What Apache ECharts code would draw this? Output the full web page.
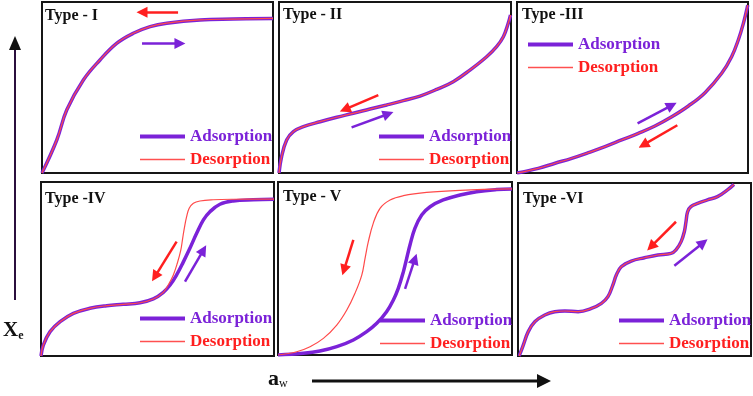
<!DOCTYPE html>
<html lang="en">
<head>
  <meta charset="UTF-8">
  <script src="https://cdn.jsdelivr.net/npm/echarts@6/dist/echarts.min.js"></script>
  <style>html,body{margin:0;padding:0;background:#fff;}</style>
</head>
<body>
  <div id="isothermChart" style="width: 753px;height:396px;"></div>

  <script type="text/javascript">

    // panel titles
    var panelTitles = ['Type - I', 'Type - II', 'Type -III', 'Type -IV', 'Type - V', 'Type -VI'];

    // curves, x = a_w and y = X_e, both on a 0..100 scale
    var typeIAds = [[0,0],[6.4,19.3],[10.7,36.8],[17.9,54.4],[25.1,66.1],[32.3,75.8],[39.5,81.7],[46.8,85.6],[54,87.6],[68.4,89.5],[82.7,90],[100,90.4]];
    var typeIDes = typeIAds;

    var typeIIAds = [[0,0],[1.1,9.5],[3.3,19.3],[6.2,24.2],[10.5,27.1],[17.7,30],[24.9,32.6],[32,34.9],[39.2,37.4],[46.4,39.8],[53.6,42.3],[60.8,45],[68,48.9],[75.1,53.4],[82.3,60.2],[89.5,68],[93.8,73.9],[96.7,79.7],[98.8,87.5],[99.8,92.4]];
    var typeIIDes = typeIIAds;

    var typeIIIAds = [[0,0],[9.2,2.7],[16.5,5.7],[23.7,8.6],[30.9,11.9],[38.1,15.4],[45.3,19.3],[52.5,23.2],[59.7,27.5],[67,32.9],[74.2,39.2],[81.4,47],[88.6,58.3],[92.9,68],[95.8,77.8],[98,87.5],[99.9,98.2]];
    var typeIIIDes = typeIIIAds;

    var typeIVAds = [[0,0],[1,6.3],[3.9,14],[8.2,19.7],[13.9,24.5],[21,27.4],[28.2,28.9],[35.3,29.7],[42.5,30.6],[48.2,32.8],[52.5,36.6],[55.4,40.8],[58.2,46.6],[61,53.8],[63.9,61.9],[66.8,70.5],[69.7,78.2],[72.5,82.9],[76.8,87.2],[82.5,89.1],[91.1,89.8],[100,90.1]];
    var typeIVDes = [[0,0],[1,6.3],[3.9,14],[8.2,19.7],[13.9,24.5],[21,27.4],[28.2,28.9],[35.3,29.7],[42.5,30.6],[48.2,32.8],[52.5,36.6],[54.6,40.8],[56.8,46.6],[58.5,53.3],[60,60.9],[60.8,67.6],[61.5,73.4],[62.5,80.1],[63.6,84.9],[65.4,87.8],[68.2,89.1],[73.9,89.8],[82.5,90.1],[100,90.2]];

    var typeVAds = [[0,0],[10.8,1],[17.9,2.3],[25.1,4.8],[32.2,8.7],[37.9,13.5],[42.2,18.3],[46.4,25],[49.3,31.8],[51.4,38.5],[53.6,48.2],[55,55.9],[56.4,63.6],[58.5,73.2],[61.4,80.9],[65,85.7],[70.6,89.6],[77.8,92.5],[84.9,94.4],[93.5,95.6],[100,96]];
    var typeVDes = [[0,0],[8,1.9],[13.7,4.8],[19.4,9.6],[25.1,17.3],[29.4,26],[32.9,35.7],[35.8,46.2],[37.2,55.9],[38.6,65.5],[40.7,76.1],[43.6,84.8],[47.9,89.6],[53.6,92.1],[63.5,94],[77.8,95.2],[100,96]];

    var typeVIAds = [[0.5,0],[2.3,6.4],[4.4,14.1],[7.3,19.9],[11.5,23.7],[15.8,25.6],[20.1,26],[25.8,25.6],[31.5,27.5],[35.8,30.4],[38.6,34.3],[40.7,41],[42.2,46.8],[44.3,51.6],[48.6,54.9],[54.3,56.8],[60,58.4],[65.7,59.3],[67.8,61.3],[70,66.1],[71.4,71.9],[72.1,77.6],[72.8,83.4],[74.2,86.3],[77.1,88.2],[81.3,90.2],[85.6,92.1],[89.9,96],[92.7,99.2]];
    var typeVIDes = typeVIAds;

    var adsCurves = [typeIAds, typeIIAds, typeIIIAds, typeIVAds, typeVAds, typeVIAds];
    var desCurves = [typeIDes, typeIIDes, typeIIIDes, typeIVDes, typeVDes, typeVIDes];

    // direction arrows (start, tip) in the same 0..100 units
    var adsArrows = [
      [[43.3,75.8],[59.7,75.8]],
      [[31.3,26.7],[47.1,34.5]],
      [[52.2,29],[67,39.6]],
      [[61.8,42.7],[69.7,60.9]],
      [[54.3,38.2],[58.5,55.5]],
      [[67.1,52.2],[79.5,65.5]]
    ];
    var desArrows = [
      [[58.9,94],[43.3,94]],
      [[42.8,45.6],[28.4,37.2]],
      [[69.4,27.9],[54.7,16.4]],
      [[58.2,65.7],[48.9,45.6]],
      [[32.2,66.5],[28.2,49.1]],
      [[67.8,77.6],[57.1,63.2]]
    ];

    var purple = '#7b22d8';
    var red = '#ff1f1f';
    var serif = '"Liberation Serif", "Times New Roman", serif';

    // panel boxes in px: left, top, width, height
    var boxes = [
      [42, 2, 231, 171], [279, 2, 232, 171], [517, 2, 231, 171],
      [41, 182, 233, 174], [278, 182, 234, 173], [518, 183, 233, 173]
    ];
    // legend and title spots in px
    var legendSpots = [[138, 128], [377, 128], [526, 36], [138, 310], [378, 312], [617, 312]];
    var titleSpots = [[45, 8], [283, 7], [522, 7], [45, 191], [283, 189], [523, 191]];

    function createIsothermChart() {
        const chart = echarts.init(document.getElementById('isothermChart'));

        let grids = [], xAxes = [], yAxes = [], series = [], legends = [], titles = [];

        boxes.forEach(function (b, i) {
            grids.push({
                left: b[0], top: b[1], width: b[2], height: b[3],
                show: true, borderColor: '#161616', borderWidth: 2, backgroundColor: '#fff'
            });
            xAxes.push({ gridIndex: i, type: 'value', min: 0, max: 100, show: false });
            yAxes.push({ gridIndex: i, type: 'value', min: 0, max: 100, show: false });

            series.push({
                name: 'Adsorption', type: 'line', xAxisIndex: i, yAxisIndex: i,
                data: adsCurves[i], symbol: 'none', smooth: 0.4, z: 2,
                lineStyle: { color: purple, width: 3.5 }, itemStyle: { color: purple }
            });
            series.push({
                name: 'Desorption', type: 'line', xAxisIndex: i, yAxisIndex: i,
                data: desCurves[i], symbol: 'none', smooth: 0.4, z: 3,
                lineStyle: { color: '#ff4a4a', width: 1.2 }, itemStyle: { color: '#ff4a4a' }
            });
            series.push({
                type: 'lines', coordinateSystem: 'cartesian2d', xAxisIndex: i, yAxisIndex: i,
                symbol: ['none', 'triangle'], symbolSize: [12, 11], z: 4, silent: true,
                data: [
                    { coords: desArrows[i], lineStyle: { color: red, width: 2.5, opacity: 1 } },
                    { coords: adsArrows[i], lineStyle: { color: purple, width: 2.5, opacity: 1 } }
                ]
            });

            legends.push({
                left: legendSpots[i][0], top: legendSpots[i][1], orient: 'vertical',
                itemWidth: 45, itemHeight: 14, itemGap: 6, padding: 0, selectedMode: false,
                itemStyle: { opacity: 0 },
                textStyle: { fontFamily: serif, fontWeight: 'bold', fontSize: 17 },
                data: [
                    { name: 'Adsorption', lineStyle: { width: 4, color: purple }, textStyle: { color: purple } },
                    { name: 'Desorption', lineStyle: { width: 1.6, color: '#ff5050' }, textStyle: { color: red } }
                ]
            });

            titles.push({
                text: panelTitles[i], left: titleSpots[i][0], top: titleSpots[i][1], padding: 0,
                textStyle: { fontFamily: serif, fontWeight: 'bold', fontSize: 16, color: '#111' }
            });
        });

        let option = {
            animation: false,
            backgroundColor: '#fff',
            title: titles,
            legend: legends,
            grid: grids,
            xAxis: xAxes,
            yAxis: yAxes,
            series: series,
            graphic: [
                { type: 'line', shape: { x1: 15, y1: 300, x2: 15, y2: 46 }, style: { stroke: '#2b0f3d', lineWidth: 2 } },
                { type: 'polygon', shape: { points: [[9, 50], [21, 50], [15, 36]] }, style: { fill: '#111' } },
                { type: 'line', shape: { x1: 312, y1: 381, x2: 540, y2: 381 }, style: { stroke: '#111', lineWidth: 3 } },
                { type: 'polygon', shape: { points: [[537, 374], [551, 381], [537, 388]] }, style: { fill: '#111' } },
                {
                    type: 'text', left: 3, top: 320,
                    style: {
                        text: '{b|X}{s|e}',
                        rich: {
                            b: { fontFamily: serif, fontWeight: 'bold', fontSize: 21, fill: '#111' },
                            s: { fontFamily: serif, fontWeight: 'bold', fontSize: 12, fill: '#111', padding: [10, 0, 0, 0] }
                        }
                    }
                },
                {
                    type: 'text', left: 268, top: 368,
                    style: {
                        text: '{b|a}{s|w}',
                        rich: {
                            b: { fontFamily: serif, fontWeight: 'bold', fontSize: 22, fill: '#111' },
                            s: { fontFamily: serif, fontWeight: 'normal', fontSize: 12, fill: '#111', padding: [10, 0, 0, 0] }
                        }
                    }
                }
            ]
        };

        chart.setOption(option);
    }
    createIsothermChart();
  </script>
</body>
</html>
